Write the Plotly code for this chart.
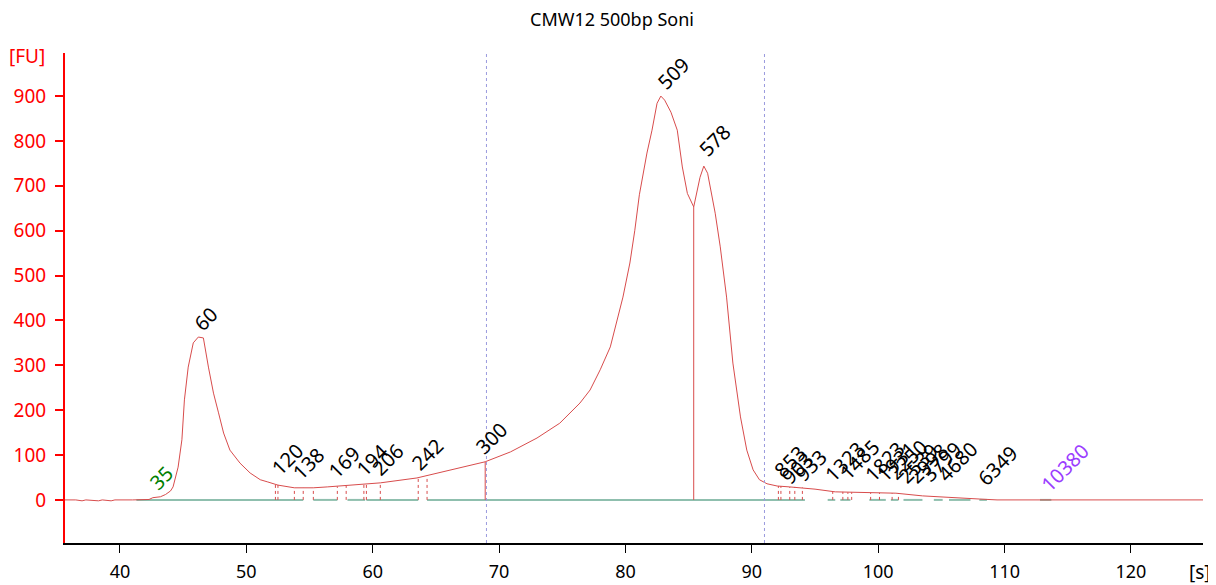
import plotly.graph_objects as go

# 전기영동 곡선 (시간[s], 형광[FU])
time_s = [35.65, 36.5, 37.0, 37.3, 38.3, 38.6, 39.3, 39.6, 41.0, 42.3, 42.6, 43.2, 43.6, 44.0,
          44.2, 44.6, 44.9, 45.1, 45.4, 45.8, 46.2, 46.6, 47.0, 47.4, 47.8, 48.2, 48.7,
          49.5, 50.3, 51.1, 51.7, 52.5, 53.8, 55.3, 56.4, 58.5, 60.6, 63.5, 66.3, 68.9,
          70.9, 73.0, 74.8, 76.4, 77.2, 78.0, 78.8, 79.3, 79.8, 80.35, 80.74, 81.1, 81.7, 82.1,
          82.5, 82.8, 83.1, 83.6, 84.1, 84.5, 84.9, 85.4, 85.9, 86.2, 86.5, 87.1, 87.5,
          88.0, 88.5, 89.1, 89.6, 90.1, 90.6, 91.2, 92.0, 93.0, 95.0, 96.6, 99.6, 101.4,
          103.5, 106.2, 108.0, 109.4, 125.7]
fu = [0, 0, -2, 0, -2, 0, -2, 0, 0, 1, 5, 7, 12, 20,
      29, 73, 134, 223, 296, 350, 363, 361, 296, 238, 194, 149, 111,
      82, 60, 45, 40, 33, 27, 27, 29, 33, 38, 49, 67, 85,
      107, 138, 171, 216, 245, 290, 341, 394, 452, 528, 601, 680, 773, 824,
      884, 900, 891, 864, 824, 742, 683, 653, 719, 744, 728, 639, 564,
      452, 305, 185, 111, 67, 45, 36, 31, 29, 24, 18, 16, 15,
      9, 4, 2, 0, 0]

# 피크 라벨 (라벨 중심 위치)
peak_labels = ['60', '120', '138', '169', '194', '206', '242', '300', '509', '578',
               '853', '903', '933', '1323', '1485', '1823', '1931', '2250', '2539',
               '2998', '3799', '4680', '6349']
peak_x = [46.8, 53.2, 54.9, 57.7, 60.0, 61.2, 64.3, 69.35, 83.75, 87.07,
          93.01, 93.56, 94.67, 97.36, 98.54, 100.52, 101.47, 102.34, 103.13,
          103.92, 105.03, 106.30, 109.46]
peak_y = [405, 91, 82, 84, 89, 89, 102, 138, 951, 800,
          85, 71, 76, 85, 89, 85, 85, 89, 82,
          82, 85, 85, 76]

# 마커
marker_labels = ['35', '10380']
marker_x = [43.3, 114.76]
marker_y = [49, 73]
marker_colors = ['green', '#9b3dff']

# 피크 경계선
div_x = [52.3, 52.5, 53.8, 54.5, 55.3, 57.2, 57.9, 59.3, 59.5, 60.6, 63.6, 64.3,
         92.1, 92.3, 93.0, 93.4, 94.0, 96.4, 97.2, 97.6, 97.9, 99.4, 100.1, 101.1, 101.6]
div_h = [36, 35, 27, 27, 27, 30, 31, 35, 35, 38, 49, 52,
         31, 31, 29, 29, 28, 18, 18, 17, 17, 16, 16, 15, 15]
solid_x = [68.9, 85.4]
solid_h = [85, 653]

# 기준선 구간
base_segs = [(41.3, 54.5), (55.3, 57.2), (58.0, 59.4), (59.5, 63.6), (64.3, 94.2),
             (96.0, 96.6), (97.0, 97.8), (99.3, 100.6), (101.0, 101.6), (102.0, 103.5),
             (104.4, 105.1), (105.6, 107.3), (108.0, 108.6), (112.8, 113.7)]

marker_lines = [69.0, 91.0]

FONT = 'Noto Sans'
RED = '#d84c4c'
fig = go.Figure()

bx, by = [], []
for a, b in base_segs:
    bx += [a, b, None]
    by += [0, 0, None]
fig.add_trace(go.Scatter(x=bx, y=by, mode='lines', line=dict(color='#8fbfae', width=2),
                         hoverinfo='skip'))

dx, dy = [], []
for x, h in zip(div_x, div_h):
    dx += [x, x, None]
    dy += [0, h, None]
fig.add_trace(go.Scatter(x=dx, y=dy, mode='lines', line=dict(color=RED, width=1, dash='dot'),
                         hoverinfo='skip'))

sx, sy = [], []
for x, h in zip(solid_x, solid_h):
    sx += [x, x, None]
    sy += [0, h, None]
fig.add_trace(go.Scatter(x=sx, y=sy, mode='lines', line=dict(color=RED, width=1),
                         hoverinfo='skip'))

fig.add_trace(go.Scatter(x=time_s, y=fu, mode='lines', line=dict(color=RED, width=1)))

for x in marker_lines:
    fig.add_vline(x=x, line=dict(color='#9a9ade', width=1, dash='dot'))

for lab, x, y in zip(peak_labels, peak_x, peak_y):
    fig.add_annotation(x=x, y=y, text=lab, showarrow=False, textangle=-45,
                       xanchor='center', yanchor='middle',
                       font=dict(size=20, color='black', family=FONT))
for lab, x, y, c in zip(marker_labels, marker_x, marker_y, marker_colors):
    fig.add_annotation(x=x, y=y, text=lab, showarrow=False, textangle=-45,
                       xanchor='center', yanchor='middle',
                       font=dict(size=20, color=c, family=FONT))

fig.add_annotation(x=0, xref='paper', xanchor='right', xshift=-18, y=1, yref='paper', yanchor='middle',
                   yshift=-3, text='[FU]', showarrow=False, font=dict(size=19, color='red', family=FONT))
fig.add_annotation(x=1, xref='paper', xanchor='right', xshift=10, y=0, yref='paper', yanchor='top',
                   yshift=-14, text='[s]', showarrow=False, font=dict(size=19, color='black', family=FONT))

# 페이지 여백(8px) 보정
fig.update_layout(
    title=dict(text='CMW12 500bp Soni', x=0.5, xanchor='center', y=0.99, yanchor='top',
               font=dict(size=18, color='black', family=FONT)),
    width=1208, height=577,
    margin=dict(l=57, r=13, t=45, b=42),
    plot_bgcolor='white', paper_bgcolor='white',
    showlegend=False,
    xaxis=dict(range=[35.65, 125.7], tickvals=[40, 50, 60, 70, 80, 90, 100, 110, 120],
               showgrid=False, zeroline=False, showline=True, linecolor='black', linewidth=2,
               ticks='outside', ticklen=8, tickwidth=1, tickcolor='black', automargin=False,
               ticklabelstandoff=3, tickfont=dict(size=18, color='black', family=FONT)),
    yaxis=dict(range=[-96, 996], tickvals=[0, 100, 200, 300, 400, 500, 600, 700, 800, 900],
               showgrid=False, zeroline=False, showline=True, linecolor='red', linewidth=2,
               ticks='outside', ticklen=8, tickwidth=2, tickcolor='red', automargin=False,
               ticklabelstandoff=5, tickfont=dict(size=19, color='red', family=FONT)),
)

fig.write_html('out.html')
